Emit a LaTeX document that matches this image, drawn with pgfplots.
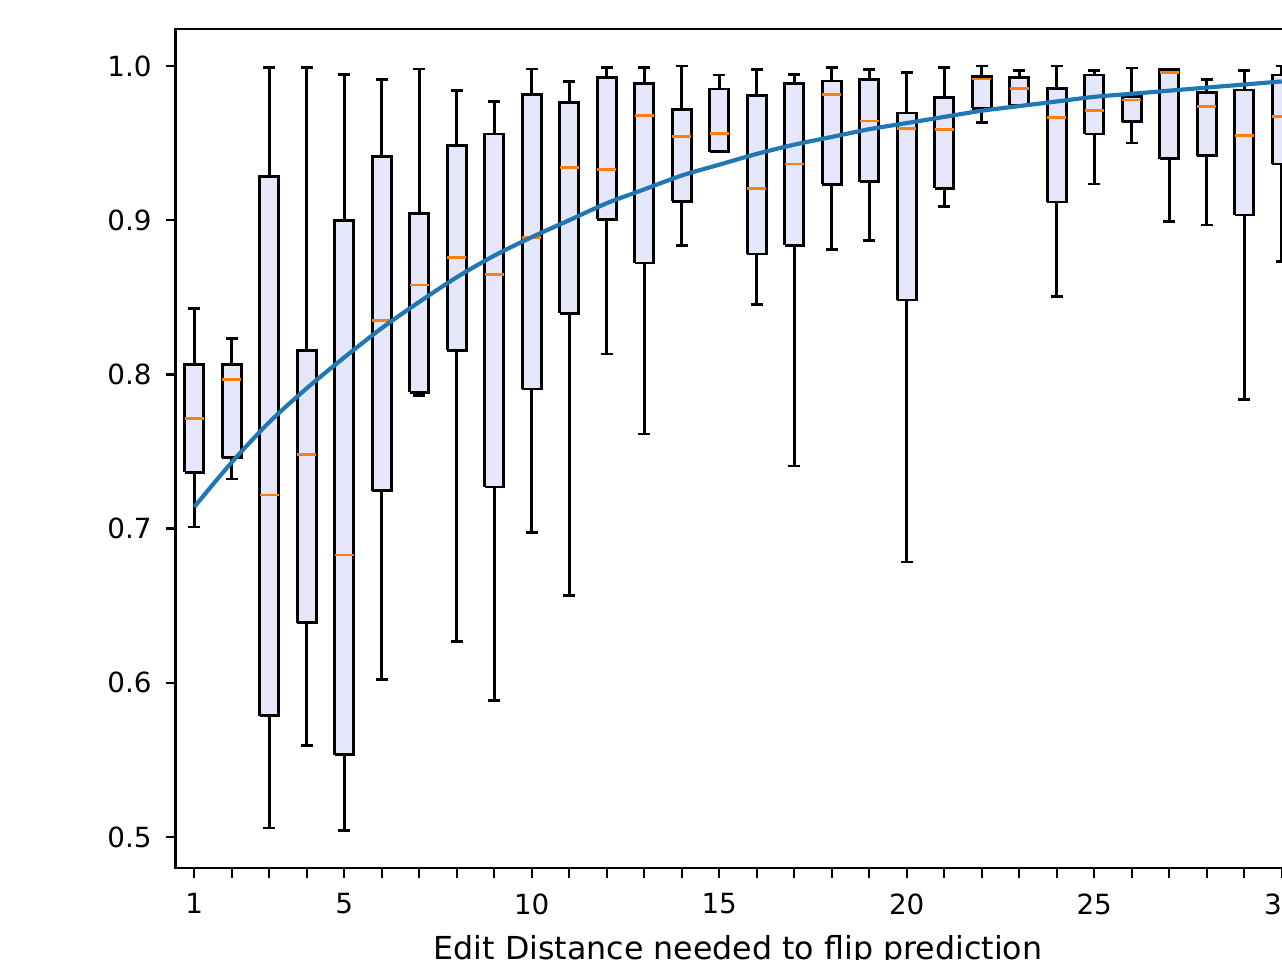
\documentclass[border=0pt]{standalone}
\usepackage{fontspec}
\setmainfont{DejaVu Sans}
\usepackage{pgfplots}
\pgfplotsset{compat=1.18}
\definecolor{lav}{HTML}{E6E6FA}
\definecolor{mplorange}{HTML}{FF7F0E}
\definecolor{mplblue}{HTML}{1F77B4}
% #1 position, #2 lower whisker, #3 lower quartile, #4 median, #5 upper quartile, #6 upper whisker
\newcommand{\bx}[6]{%
  \pgfmathsetmacro\xl{#1-0.25}\pgfmathsetmacro\xr{#1+0.25}%
  \pgfmathsetmacro\cl{#1-0.125}\pgfmathsetmacro\cr{#1+0.125}%
  \edef\tmp{%
  \noexpand\addplot[black, line width=1pt] coordinates {(#1,#2) (#1,#3)};
  \noexpand\addplot[black, line width=1pt] coordinates {(#1,#5) (#1,#6)};
  \noexpand\addplot[black, line width=1pt, line cap=rect] coordinates {(\cl,#2) (\cr,#2)};
  \noexpand\addplot[black, line width=1pt, line cap=rect] coordinates {(\cl,#6) (\cr,#6)};
  \noexpand\addplot[draw=black, fill=lav, line width=1pt, line join=miter] coordinates {(\xl,#3) (\xr,#3) (\xr,#5) (\xl,#5) (\xl,#3)};
  \noexpand\addplot[mplorange, line width=1pt] coordinates {(\xl,#4) (\xr,#4)};
  }\tmp}
\begin{document}
\begin{tikzpicture}
\useasboundingbox (0,0) rectangle (461.52pt,345.6pt);
\clip (0,0) rectangle (461.52pt,345.6pt);
\begin{axis}[
  at={(63.18pt,33.12pt)}, anchor=south west,
  scale only axis, width=405pt, height=302.04pt,
  xmin=0.5, xmax=30.5, ymin=0.4799, ymax=1.0240,
  xtick={1,...,30},
  xticklabels={1,,,,5,,,,,10,,,,,15,,,,,20,,,,,25,,,,,30},
  ytick={0.5,0.6,0.7,0.8,0.9,1.0},
  scaled y ticks=false,
  /pgf/number format/assume math mode=true,
  xticklabel style={anchor=north, inner sep=0pt, yshift=-5.5pt},
  yticklabel style={anchor=east, inner sep=0pt, xshift=-4.9pt, /pgf/number format/fixed, /pgf/number format/fixed zerofill, /pgf/number format/precision=1},
  tick align=outside, xtick pos=bottom, ytick pos=left,
  major tick length=3.5pt,
  every tick/.style={black, line width=0.8pt},
  axis line style={line width=0.8pt},
  xlabel={Edit Distance needed to flip prediction},
  xlabel style={at={(axis description cs:0.5,0)}, anchor=base, yshift=-32.8pt, inner sep=0pt, font=\fontsize{11.4}{13}\selectfont},
]
\bx{1}{0.701}{0.7364}{0.7715}{0.8066}{0.8427}
\bx{2}{0.7322}{0.7461}{0.7965}{0.8066}{0.8232}
\bx{3}{0.5058}{0.5787}{0.7218}{0.9281}{0.999}
\bx{4}{0.5593}{0.6391}{0.7479}{0.8156}{0.999}
\bx{5}{0.5044}{0.5533}{0.6829}{0.900}{0.9945}
\bx{6}{0.602}{0.7246}{0.835}{0.9413}{0.9913}
\bx{7}{0.7864}{0.7885}{0.858}{0.9042}{0.998}
\bx{8}{0.627}{0.8156}{0.8757}{0.9486}{0.984}
\bx{9}{0.5884}{0.727}{0.8649}{0.9559}{0.9771}
\bx{10}{0.6975}{0.7906}{0.889}{0.9813}{0.998}
\bx{11}{0.6565}{0.8396}{0.9344}{0.9764}{0.990}
\bx{12}{0.8132}{0.9007}{0.9327}{0.9927}{0.999}
\bx{13}{0.7614}{0.8722}{0.9677}{0.9886}{0.999}
\bx{14}{0.8837}{0.9122}{0.9545}{0.9719}{1.000}
\bx{15}{0.9445}{0.9445}{0.9563}{0.9851}{0.9941}
\bx{16}{0.8455}{0.8781}{0.9208}{0.9809}{0.9976}
\bx{17}{0.7406}{0.8837}{0.9365}{0.9886}{0.9945}
\bx{18}{0.8809}{0.9233}{0.9816}{0.9903}{0.999}
\bx{19}{0.8868}{0.925}{0.9643}{0.9913}{0.9976}
\bx{20}{0.6784}{0.8482}{0.9596}{0.9695}{0.996}
\bx{21}{0.909}{0.9208}{0.959}{0.9797}{0.999}
\bx{22}{0.9635}{0.9726}{0.9916}{0.9931}{1.000}
\bx{23}{0.9747}{0.9747}{0.9855}{0.9927}{0.997}
\bx{24}{0.8503}{0.9118}{0.9667}{0.9855}{1.000}
\bx{25}{0.9235}{0.9559}{0.971}{0.9942}{0.997}
\bx{26}{0.950}{0.9639}{0.978}{0.980}{0.9987}
\bx{27}{0.899}{0.940}{0.996}{0.9976}{0.9976}
\bx{28}{0.8969}{0.9418}{0.9739}{0.983}{0.9911}
\bx{29}{0.7836}{0.9034}{0.9548}{0.9844}{0.997}
\bx{30}{0.873}{0.9364}{0.9674}{0.9942}{1.000}
\addplot[mplblue, line width=1.5pt, smooth, no markers] coordinates {
(1,0.714) (2,0.743) (3,0.769) (4,0.791) (5,0.811) (6,0.830) (7,0.847) (8,0.863)
(9,0.877) (10,0.889) (11,0.900) (12,0.911) (13,0.920) (14,0.929) (15,0.936)
(16,0.943) (17,0.949) (18,0.954) (19,0.959) (20,0.963) (21,0.967) (22,0.971)
(23,0.974) (24,0.977) (25,0.980) (26,0.982) (27,0.984) (28,0.986) (29,0.988) (30,0.990)
};
\end{axis}
\end{tikzpicture}
\end{document}
